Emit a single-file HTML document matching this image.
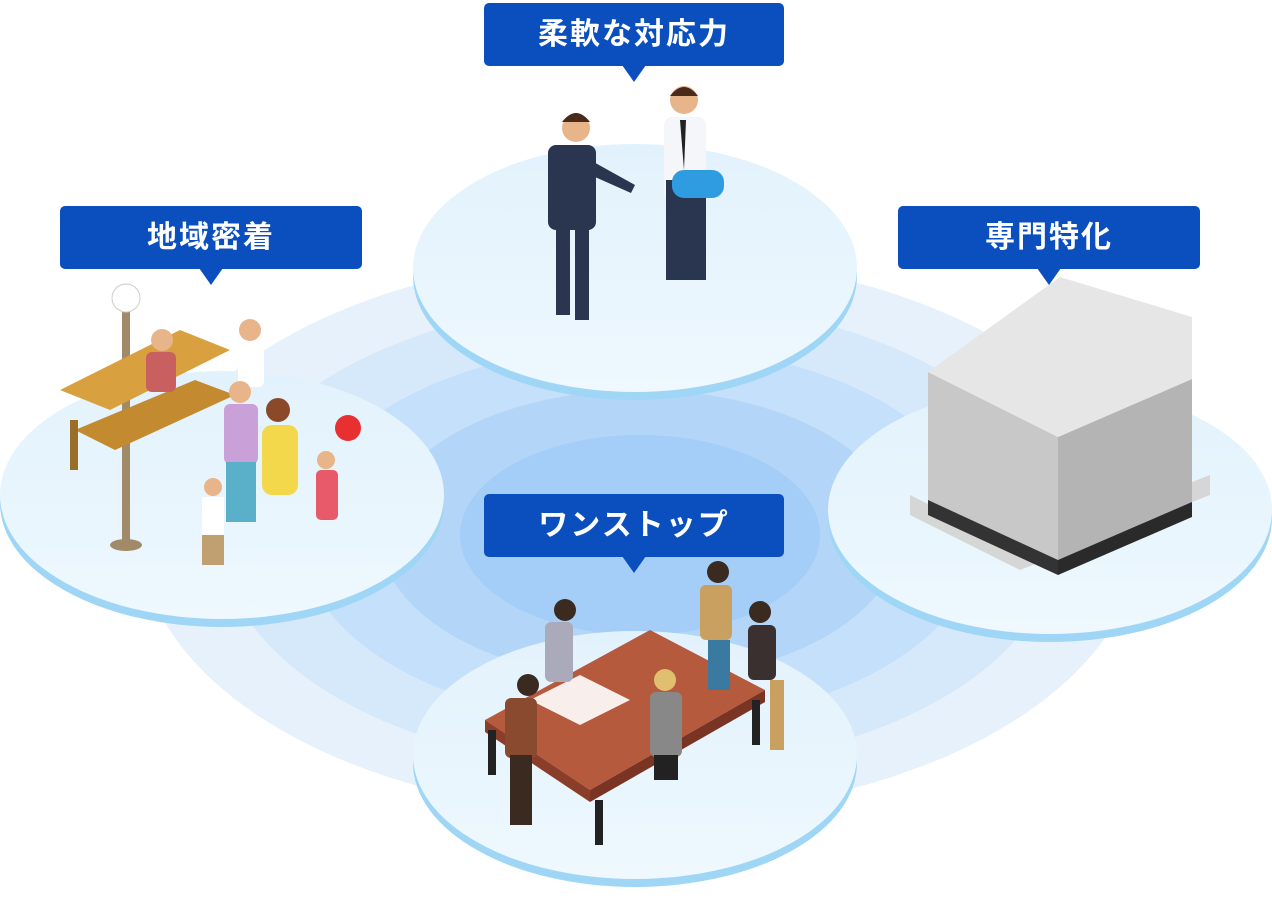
<!DOCTYPE html>
<html><head><meta charset="utf-8">
<style>
html,body{margin:0;padding:0;background:#fff;}
body{width:1272px;height:900px;position:relative;overflow:hidden;font-family:"Liberation Sans","Noto Sans CJK JP",sans-serif;}
.lbl{position:absolute;height:63px;background:#0b4fbf;border-radius:5px;color:#fff;font-weight:bold;font-size:30px;line-height:63px;text-align:center;letter-spacing:2px;}
.lbl:after{content:"";position:absolute;left:50%;bottom:-16px;margin-left:-12px;border-left:12px solid transparent;border-right:12px solid transparent;border-top:17px solid #0b4fbf;}
svg{position:absolute;left:0;top:0;}
</style></head><body>
<svg width="1272" height="900" viewBox="0 0 1272 900">
<defs>
<linearGradient id="disk" x1="0" y1="0" x2="0" y2="1">
<stop offset="0" stop-color="#e2f2fc"/><stop offset="1" stop-color="#eef8fe"/>
</linearGradient>
</defs>
<ellipse cx="640" cy="535" rx="500" ry="280" fill="#e6f1fc"/>
<ellipse cx="640" cy="535" rx="420" ry="235" fill="#d6e9fb"/>
<ellipse cx="640" cy="535" rx="340" ry="190" fill="#c5e0fa"/>
<ellipse cx="640" cy="535" rx="260" ry="145" fill="#b3d6f8"/>
<ellipse cx="640" cy="535" rx="180" ry="100" fill="#a4cef7"/>
<g>
<ellipse cx="635" cy="276" rx="222" ry="124" fill="#9fd6f6"/>
<ellipse cx="635" cy="268" rx="222" ry="124" fill="url(#disk)"/>
<ellipse cx="222" cy="503" rx="222" ry="124" fill="#9fd6f6"/>
<ellipse cx="222" cy="495" rx="222" ry="124" fill="url(#disk)"/>
<ellipse cx="1050" cy="518" rx="222" ry="124" fill="#9fd6f6"/>
<ellipse cx="1050" cy="510" rx="222" ry="124" fill="url(#disk)"/>
<ellipse cx="635" cy="763" rx="222" ry="124" fill="#9fd6f6"/>
<ellipse cx="635" cy="755" rx="222" ry="124" fill="url(#disk)"/>
</g>
<g>
<circle cx="576" cy="128" r="14" fill="#e8b48a"/><path d="M562 122q14-18 28 0z" fill="#4a2a1a"/>
<rect x="548" y="145" width="48" height="85" rx="8" fill="#2a3550"/>
<path d="M590 160l45 25-4 8-45-20z" fill="#2a3550"/>
<rect x="556" y="225" width="14" height="90" fill="#2a3550"/><rect x="575" y="225" width="14" height="95" fill="#2a3550"/>
<circle cx="684" cy="100" r="14" fill="#e8b48a"/><path d="M670 96q14-18 28 0z" fill="#4a2a1a"/>
<rect x="664" y="117" width="42" height="85" rx="8" fill="#f4f6f9"/>
<path d="M680 120h6l-2 50z" fill="#222"/>
<rect x="666" y="180" width="40" height="100" fill="#2a3550"/>
<rect x="672" y="170" width="52" height="28" rx="12" fill="#2f9be0"/>
</g>
<g>
<rect x="122" y="305" width="8" height="240" fill="#a08a6a"/><circle cx="126" cy="298" r="14" fill="#fff" stroke="#ccc"/>
<ellipse cx="126" cy="545" rx="16" ry="6" fill="#a08a6a"/>
<path d="M60 390l120-60 50 20-120 60z" fill="#d9a040"/>
<path d="M75 430l120-50 40 15-120 55z" fill="#c48a30"/>
<rect x="70" y="420" width="8" height="50" fill="#9b6e28"/>
<circle cx="162" cy="340" r="11" fill="#e8b48a"/><rect x="146" y="352" width="30" height="40" rx="6" fill="#c86060"/>
<circle cx="250" cy="330" r="11" fill="#e8b48a"/><rect x="238" y="342" width="26" height="45" rx="6" fill="#fff"/>
<circle cx="240" cy="392" r="11" fill="#e8b48a"/><rect x="224" y="404" width="34" height="60" rx="6" fill="#c9a0d8"/>
<rect x="226" y="462" width="30" height="60" fill="#5ab0c8"/>
<circle cx="278" cy="410" r="12" fill="#8a4a2a"/><rect x="262" y="425" width="36" height="70" rx="10" fill="#f2d84a"/>
<circle cx="326" cy="460" r="9" fill="#e8b48a"/><rect x="316" y="470" width="22" height="50" rx="5" fill="#e85a6a"/>
<circle cx="348" cy="428" r="13" fill="#e83030"/>
<circle cx="213" cy="487" r="9" fill="#e8b48a"/><rect x="202" y="497" width="22" height="40" fill="#fff"/><rect x="202" y="535" width="22" height="30" fill="#c0a070"/>
</g>
<g>
<path d="M910 515l110 55 190-75v-20l-190 75-110-55z" fill="#d6d6d6"/>
<path d="M928 372l130 65v130l-130-62z" fill="#c8c8c8"/>
<path d="M1058 437l134-58v125l-134 63z" fill="#b4b4b4"/>
<path d="M928 372l132-95 132 40v62l-134 58z" fill="#e6e6e6"/>
<path d="M928 500l130 60v15l-130-60z" fill="#333"/>
<path d="M1058 560l134-58v15l-134 58z" fill="#2a2a2a"/>
</g>
<g>
<path d="M485 720l165-90 115 60-175 100z" fill="#b65a3e"/>
<path d="M485 720l105 70v12l-105-70z" fill="#8a3e2a"/>
<path d="M590 790l175-100v12l-175 100z" fill="#7a3424"/>
<rect x="488" y="730" width="8" height="45" fill="#222"/><rect x="595" y="800" width="8" height="45" fill="#222"/><rect x="752" y="700" width="8" height="45" fill="#222"/>
<path d="M530 700l50-25 50 25-50 25z" fill="#fff" opacity=".9"/>
<circle cx="565" cy="610" r="11" fill="#3a2a20"/><rect x="545" y="622" width="28" height="60" rx="6" fill="#aab"/>
<circle cx="718" cy="572" r="11" fill="#3a2a20"/><rect x="700" y="585" width="32" height="55" rx="6" fill="#c9a060"/><rect x="708" y="640" width="22" height="50" fill="#3a7aa0"/>
<circle cx="760" cy="612" r="11" fill="#3a2a20"/><rect x="748" y="625" width="28" height="55" rx="6" fill="#3a3030"/><rect x="770" y="680" width="14" height="70" fill="#c9a060"/>
<circle cx="528" cy="685" r="11" fill="#3a2a20"/><rect x="505" y="698" width="32" height="60" rx="6" fill="#8a4a30"/><rect x="510" y="755" width="22" height="70" fill="#3a2a20"/>
<circle cx="665" cy="680" r="11" fill="#e0c070"/><rect x="650" y="692" width="32" height="65" rx="6" fill="#888"/><rect x="654" y="755" width="24" height="25" fill="#222"/>
</g>
</svg>
<div class="lbl" style="left:484px;top:3px;width:300px;">柔軟な対応力</div>
<div class="lbl" style="left:60px;top:206px;width:302px;">地域密着</div>
<div class="lbl" style="left:898px;top:206px;width:302px;">専門特化</div>
<div class="lbl" style="left:484px;top:494px;width:300px;">ワンストップ</div>
</body></html>
